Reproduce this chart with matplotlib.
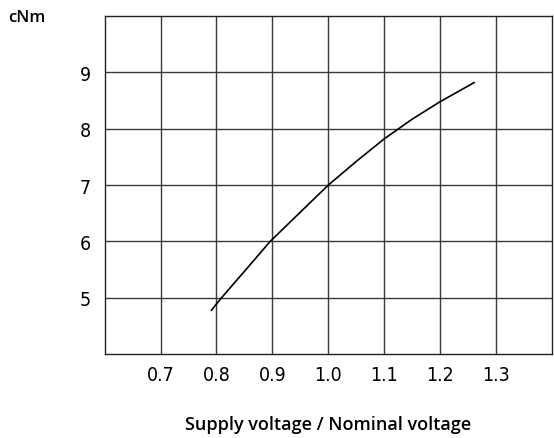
import matplotlib
matplotlib.use("Agg")
import matplotlib.pyplot as plt

# curve
ratio = [0.791, 0.809, 0.85, 0.896, 0.95, 1.0, 1.05, 1.1, 1.15, 1.2, 1.261]
torque = [4.78, 5.0, 5.47, 6.0, 6.52, 7.0, 7.42, 7.82, 8.17, 8.48, 8.82]

xticks = [0.7, 0.8, 0.9, 1.0, 1.1, 1.2, 1.3]
xticklabels = ['0.7', '0.8', '0.9', '1.0', '1.1', '1.2', '1.3']
yticks = [5, 6, 7, 8, 9]
yticklabels = ['5', '6', '7', '8', '9']

fig = plt.figure(figsize=(5.54, 4.39), dpi=100)
ax = fig.add_axes([0.189, 0.191, 0.807, 0.770])

ax.plot(ratio, torque, color='black', linewidth=1.2)

ax.set_xlim(0.6, 1.4)
ax.set_ylim(4, 10)
ax.set_xticks(xticks)
ax.set_yticks(yticks)
tick_font = dict(family='DejaVu Sans', stretch='condensed', fontweight='light',
                 fontsize=14)
ax.set_xticklabels(xticklabels, **tick_font)
ax.set_yticklabels(yticklabels, **tick_font)
ax.tick_params(axis='x', length=0, pad=8)
ax.tick_params(axis='y', length=0, pad=10)
ax.grid(True, color='#3a3a3a', linewidth=1.0)

for s in ax.spines.values():
    s.set_color('#222222')
    s.set_linewidth(1.0)

ax.set_xlabel('Supply voltage / Nominal voltage', fontsize=13,
              family=['Open Sans', 'DejaVu Sans'], fontweight='semibold',
              labelpad=22)
fig.text(0.014, 0.959, 'cNm', fontsize=12, family=['Open Sans', 'DejaVu Sans'],
         fontweight='semibold', va='center', ha='left')

fig.savefig('out.png', dpi=100)
